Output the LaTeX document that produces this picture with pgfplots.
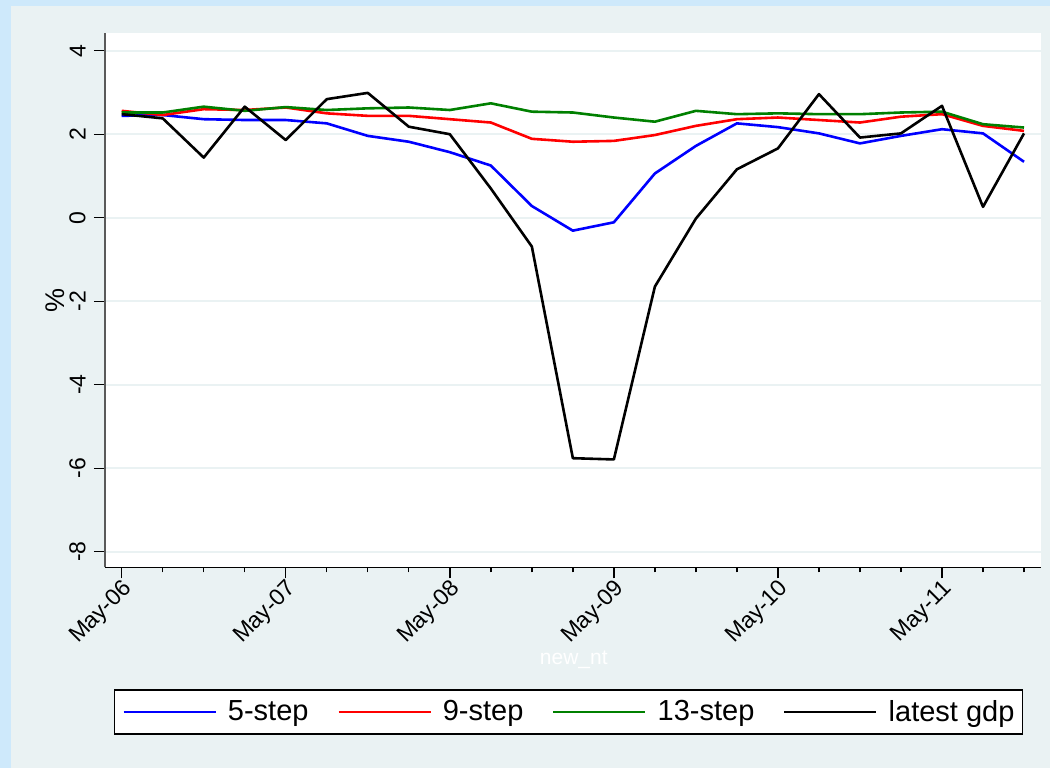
\documentclass[border=0pt]{standalone}
\usepackage{pgfplots}
\pgfplotsset{compat=1.18}
\usepackage{fontspec}
\setmainfont{Liberation Sans}

\definecolor{outerblue}{RGB}{206,233,251}
\definecolor{regiongray}{RGB}{234,242,243}
\definecolor{axisgray}{RGB}{90,90,90}
\definecolor{stgreen}{RGB}{0,128,0}

\pgfplotstableread{
q  s5    s9    s13   gdp
0  2.44  2.56  2.52  2.48
1  2.46  2.46  2.52  2.38
2  2.36  2.60  2.66  1.44
3  2.34  2.58  2.56  2.66
4  2.34  2.64  2.65  1.86
5  2.26  2.50  2.58  2.84
6  1.96  2.44  2.62  2.99
7  1.82  2.44  2.64  2.18
8  1.57  2.36  2.58  2.00
9  1.25  2.28  2.74  0.70
10 0.28  1.89  2.54  -0.69
11 -0.31 1.82  2.52  -5.76
12 -0.11 1.84  2.40  -5.79
13 1.06  1.98  2.30  -1.65
14 1.72  2.20  2.56  -0.02
15 2.26  2.36  2.48  1.16
16 2.17  2.40  2.50  1.66
17 2.02  2.34  2.48  2.96
18 1.78  2.28  2.48  1.92
19 1.96  2.42  2.52  2.02
20 2.12  2.48  2.54  2.68
21 2.02  2.20  2.24  0.26
22 1.34  2.08  2.16  2.02
}\forecast

\begin{document}
\begin{tikzpicture}
% graph region
\fill[outerblue] (0,0) rectangle (525pt,-384pt);
\fill[regiongray] (5.5pt,-3pt) rectangle (525pt,-384pt);

\begin{axis}[
  at={(52.5pt,-283.65pt)}, anchor=south west,
  scale only axis, width=467.85pt, height=267.15pt,
  xmin=-0.407, xmax=22.407,
  ymin=-8.374, ymax=4.424,
  axis background/.style={fill=white},
  axis x line*=bottom, axis y line*=left,
  x axis line style={black, line width=0.7pt},
  y axis line style={axisgray, line width=0.8pt},
  tick align=outside,
  major tick length=5.5pt, minor tick length=2.5pt,
  every tick/.style={black, line width=0.7pt},
  xtick={0,4,...,20},
  minor xtick={0,...,22},
  xticklabels={May-06,May-07,May-08,May-09,May-10,May-11},
  ytick={-8,-6,...,4},
  /pgf/number format/assume math mode=true,
  tick label style={font=\fontsize{11.5}{13}\selectfont},
  % shifts are taken in the rotated frame of each label
  yticklabel style={rotate=90, anchor=south, inner sep=0pt, yshift=4pt},
  xticklabel style={rotate=45, anchor=east, inner sep=0pt, yshift=-5pt},
  ymajorgrids,
  grid style={regiongray, line width=1pt},
  xlabel={new\_nt},
  xlabel style={white, font=\fontsize{10.5}{12}\selectfont, at={(axis description cs:0.501,-0.1735)}, anchor=center},
  ylabel={\%},
  ylabel style={font=\fontsize{13.5}{15}\selectfont, at={(axis description cs:-0.0534,0.5)}, anchor=center},
  legend columns=4,
  legend style={
    at={(0.4954,-0.2708)}, anchor=center,
    draw=black, line width=0.6pt, fill=white,
    font=\fontsize{14.5}{16}\selectfont,
    inner xsep=4pt, inner ysep=5pt,
    nodes={inner sep=0pt},
    /tikz/every even column/.append style={column sep=14.5pt},
  },
  legend image code/.code={%
    \draw[#1, line width=1pt] (0pt,0pt) -- (46pt,0pt);
    \path (51.5pt,0pt);},
  every axis plot/.append style={line width=1.3pt, line join=round},
]
\addplot[blue] table[x=q, y=s5] {\forecast};
\addlegendentry{5-step}
\addplot[red] table[x=q, y=s9] {\forecast};
\addlegendentry{9-step}
\addplot[stgreen] table[x=q, y=s13] {\forecast};
\addlegendentry{13-step}
\addplot[black] table[x=q, y=gdp] {\forecast};
\addlegendentry{latest gdp}
\end{axis}
\pgfresetboundingbox
\useasboundingbox (0,0) rectangle (525pt,-384pt);
\end{tikzpicture}
\end{document}
